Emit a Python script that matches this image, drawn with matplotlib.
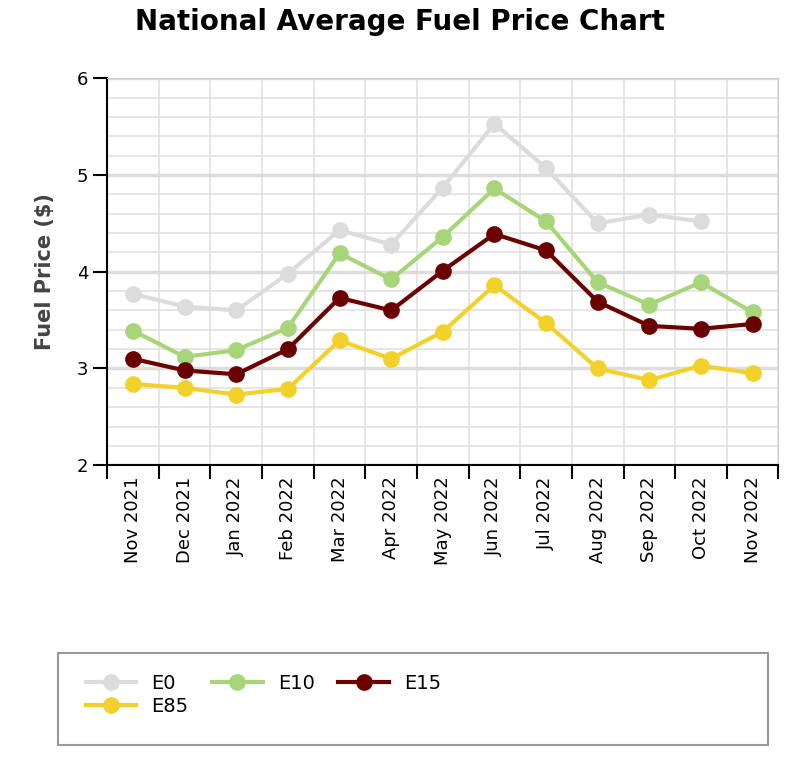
import numpy as np
import matplotlib.pyplot as plt
from matplotlib.ticker import MultipleLocator
from matplotlib.patches import Rectangle

months = ['Nov 2021', 'Dec 2021', 'Jan 2022', 'Feb 2022', 'Mar 2022', 'Apr 2022', 'May 2022',
          'Jun 2022', 'Jul 2022', 'Aug 2022', 'Sep 2022', 'Oct 2022', 'Nov 2022']
e0 = [3.77, 3.64, 3.60, 3.98, 4.43, 4.28, 4.87, 5.53, 5.07, 4.50, 4.59, 4.52, np.nan]
e10 = [3.39, 3.12, 3.19, 3.42, 4.19, 3.92, 4.36, 4.86, 4.52, 3.89, 3.66, 3.89, 3.58]
e15 = [3.10, 2.98, 2.94, 3.20, 3.73, 3.60, 4.01, 4.39, 4.22, 3.69, 3.44, 3.41, 3.46]
e85 = [2.84, 2.80, 2.73, 2.79, 3.29, 3.10, 3.38, 3.86, 3.47, 3.00, 2.88, 3.03, 2.95]

series = [('E0', e0, '#dcdcdc'), ('E10', e10, '#a8d57a'),
          ('E15', e15, '#6b0000'), ('E85', e85, '#f2d12b')]

fig = plt.figure(figsize=(8, 7.59), dpi=100)
ax = fig.add_axes([0.134, 0.387, 0.839, 0.51])

x = np.arange(len(months))
lines = {}
for name, vals, col in series:
    lines[name], = ax.plot(x, vals, color=col, lw=3, marker='o', ms=11, label=name, zorder=3)

ax.set_xlim(-0.5, len(months) - 0.5)
ax.set_ylim(2, 6)
ax.yaxis.set_major_locator(MultipleLocator(1))
ax.yaxis.set_minor_locator(MultipleLocator(0.2))
ax.set_xticks(x)
ax.set_xticklabels(months, rotation=90, fontsize=13)
ax.set_xticks(np.arange(-0.5, len(months)), minor=True)
ax.tick_params(axis='x', which='major', length=0, pad=8)
ax.tick_params(axis='x', which='minor', length=10, width=1.5)
ax.tick_params(axis='y', which='major', length=10, width=1.5, labelsize=13)
ax.tick_params(axis='y', which='minor', length=0)
ax.grid(True, axis='y', which='major', color='#dddddd', lw=2.5, zorder=0)
ax.grid(True, axis='y', which='minor', color='#e2e2e2', lw=1.2, zorder=0)
ax.grid(True, axis='x', which='minor', color='#e2e2e2', lw=1.2, zorder=0)
for s in ['top', 'right']:
    ax.spines[s].set_color('#cccccc')
for s in ['left', 'bottom']:
    ax.spines[s].set_linewidth(1.5)
ax.set_ylabel('Fuel Price ($)', fontsize=15, color='#444444', fontweight='bold', labelpad=16)
fig.suptitle('National Average Fuel Price Chart', fontsize=20, fontweight='bold', y=0.99)

# legend box
fig.patches.append(Rectangle((0.073, 0.018), 0.887, 0.122, transform=fig.transFigure,
                             fill=False, edgecolor='#999999', lw=1.5))
order = ['E0', 'E85', 'E10', 'E15']
fig.legend([lines[n] for n in order], order, loc='upper left', bbox_to_anchor=(0.085, 0.135),
           ncol=3, fontsize=14, frameon=False, handlelength=2.6, columnspacing=1.2,
           labelspacing=0.2)

fig.savefig('out.png')
